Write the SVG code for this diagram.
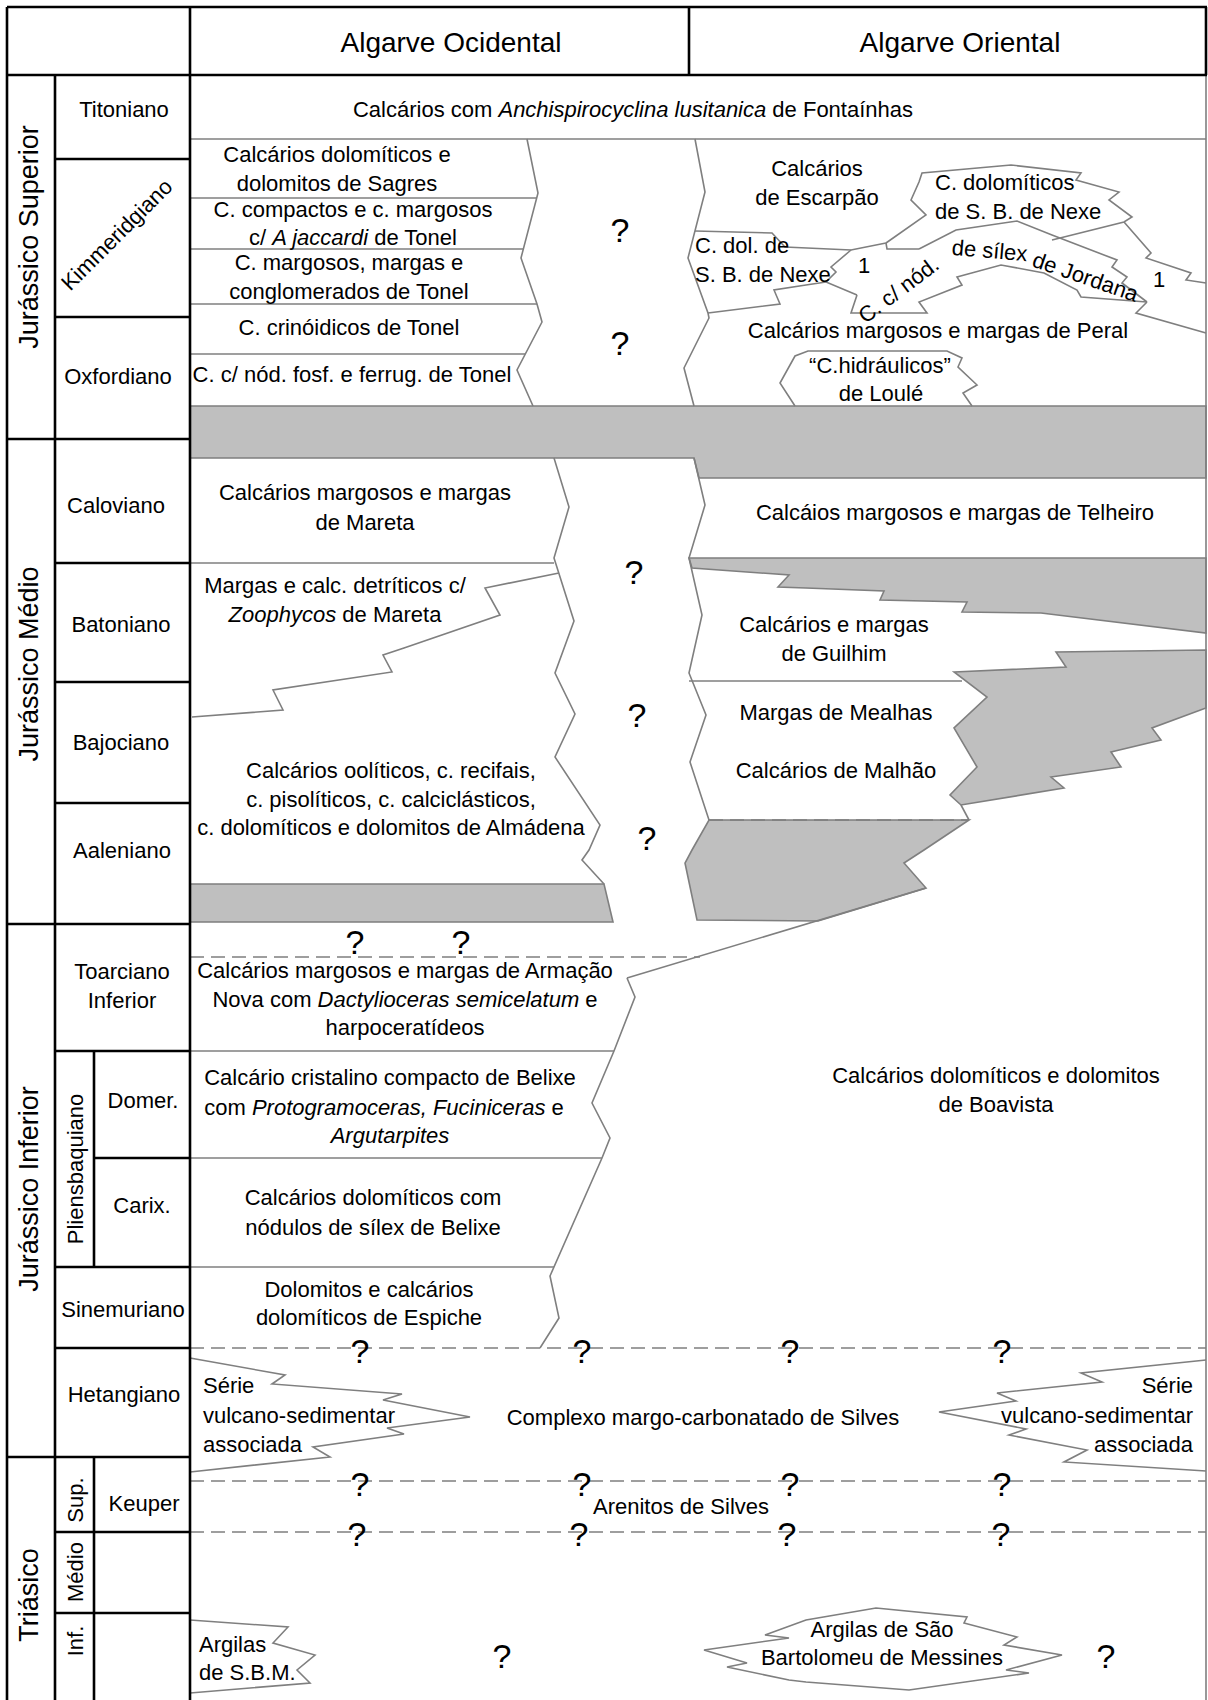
<svg xmlns="http://www.w3.org/2000/svg" width="1208" height="1700" viewBox="0 0 1208 1700">
<style>
.t{font-family:"Liberation Sans",Arial,sans-serif;font-size:22px;fill:#000}
.c{text-anchor:middle}
.e{text-anchor:end}
.h{font-size:28px}
.era{font-size:27px}
.q{font-size:34px;text-anchor:middle}
.g{stroke:#7f7f7f;stroke-width:1.6;fill:none;stroke-linejoin:miter}
.gf{fill:#bfbfbf;stroke:#7f7f7f;stroke-width:1.6}
.k{stroke:#000;stroke-width:2.6;fill:none}
.d{stroke:#7f7f7f;stroke-width:1.6;stroke-dasharray:14 7;fill:none}
</style>
<rect x="0" y="0" width="1208" height="1700" fill="#fff"/>

<g id="fills">
<polygon class="gf" points="190,406 1206,406 1206,478 699,478 694,458 190,458"/>
<polygon class="gf" points="689,558 1206,558 1206,633 1041,613 962,612 967,602 880,600 884,591 806,588 778,587 789,575 692,568"/>
<polygon class="gf" points="954,672 1066,667 1056,652 1206,650 1206,708 1152,728 1161,740 1111,752 1121,767 1051,777 1064,788 961,805 950,795 977,767 954,728 987,697"/>
<polygon class="gf" points="709,820 969,820 924,850 904,863 926,888 818,921 697,920 685,863 692,850"/>
<polygon class="gf" points="190,884 604,884 613,922 190,922"/>
</g>

<g id="connectors">
<line class="g" x1="190" y1="139" x2="1206" y2="139"/>
<line class="g" x1="1206" y1="75" x2="1206" y2="1700"/>
<polyline class="g" points="527,139 538,193 521,258 537,304 542,322 517,370 533,406"/>
<polyline class="g" points="695,139 705,192 688,258 708,313 709,318 684,368 694,406"/>
<line class="g" x1="190" y1="198" x2="537" y2="198"/>
<line class="g" x1="190" y1="249" x2="524" y2="249"/>
<line class="g" x1="190" y1="304" x2="537" y2="304"/>
<line class="g" x1="190" y1="354" x2="525" y2="354"/>
<polyline class="g" points="695,231 772,233 785,247 851,250 886,243"/>
<polyline class="g" points="886,243 926,215 911,200 919,182 922,173 1011,165 1081,173 1076,180 1119,192 1109,200 1132,217 1124,222 1052,240"/>
<polyline class="g" points="1124,222 1151,253 1146,258 1191,273 1186,280 1206,283"/>
<polyline class="g" points="886,243 887,249 919,249"/>
<polyline class="g" points="919,249 956,230 1017,221 1052,235 1117,260 1112,267 1127,277 1122,283 1147,302"/>
<polyline class="g" points="1147,302 1081,297 1077,290 1044,273 1001,265 957,277 962,285 919,302 927,313 851,313 857,295"/>
<polyline class="g" points="857,295 826,282 836,272 831,267 851,250"/>
<polyline class="g" points="708,313 780,304 774,290 806,285 826,282"/>
<polyline class="g" points="1147,302 1136,313 1206,333"/>
<polyline class="g" points="795,406 780,383 795,356 808,351 947,351 962,358 958,367 977,385 963,393 972,406"/>

<polyline class="g" points="554,458 569,507 554,558 574,621 555,673 575,714 555,757 600,825 589,850 582,860 604,884"/>
<polyline class="g" points="694,458 705,505 689,558 702,615 689,673 706,715 690,762 709,820"/>
<line class="g" x1="190" y1="563" x2="554" y2="563"/>
<polyline class="g" points="559,573 485,588 500,615 404,648 383,655 392,672 273,690 283,710 192,717"/>
<line class="g" x1="689" y1="681" x2="962" y2="681"/>
<line class="g" x1="961" y1="805" x2="969" y2="820"/>
<line class="d" x1="709" y1="820" x2="969" y2="820"/>

<line class="d" x1="190" y1="957" x2="700" y2="957"/>
<line class="g" x1="627" y1="978" x2="926" y2="888"/>
<polyline class="g" points="627,978 635,997 614,1051 592,1103 610,1138 602,1158 550,1276 559,1318 540,1348"/>
<line class="g" x1="190" y1="1051" x2="614" y2="1051"/>
<line class="g" x1="190" y1="1158" x2="602" y2="1158"/>
<line class="g" x1="190" y1="1267" x2="554" y2="1267"/>
<line class="d" x1="190" y1="1348" x2="1206" y2="1348"/>
<line class="d" x1="190" y1="1481" x2="1206" y2="1481"/>
<line class="d" x1="190" y1="1532" x2="1206" y2="1532"/>
<polyline class="g" points="190,1358 285,1375 272,1384 402,1394 383,1400 470,1417 387,1428 404,1434 313,1447 330,1457 190,1472"/>
<polyline class="g" points="1206,1360 1081,1373 1102,1382 997,1393 1016,1401 939,1412 1026,1429 1009,1435 1087,1450 1064,1462 1206,1471"/>
<polyline class="g" points="190,1620 288,1627 273,1643 315,1655 297,1670 310,1683 190,1693"/>
<polygon class="g" points="704,1650 789,1638 765,1635 806,1620 876,1608 967,1617 964,1623 1017,1637 1004,1645 1062,1655 1006,1670 1029,1673 909,1690 806,1682 789,1680 727,1667 747,1663"/>
</g>

<g id="frame">
<line class="k" x1="7" y1="7" x2="1207" y2="7"/>
<line class="k" x1="7" y1="75" x2="1207" y2="75"/>
<line class="k" x1="7" y1="7" x2="7" y2="1700"/>
<line class="k" x1="190" y1="7" x2="190" y2="1700"/>
<line class="k" x1="689" y1="7" x2="689" y2="75"/>
<line class="k" x1="1206" y1="7" x2="1206" y2="75"/>
<line class="k" x1="55" y1="75" x2="55" y2="1700"/>
<line class="k" x1="7" y1="439" x2="190" y2="439"/>
<line class="k" x1="7" y1="924" x2="190" y2="924"/>
<line class="k" x1="7" y1="1457" x2="190" y2="1457"/>
<line class="k" x1="55" y1="159" x2="190" y2="159"/>
<line class="k" x1="55" y1="317" x2="190" y2="317"/>
<line class="k" x1="55" y1="563" x2="190" y2="563"/>
<line class="k" x1="55" y1="682" x2="190" y2="682"/>
<line class="k" x1="55" y1="803" x2="190" y2="803"/>
<line class="k" x1="55" y1="1051" x2="190" y2="1051"/>
<line class="k" x1="94" y1="1158" x2="190" y2="1158"/>
<line class="k" x1="55" y1="1267" x2="190" y2="1267"/>
<line class="k" x1="55" y1="1348" x2="190" y2="1348"/>
<line class="k" x1="94" y1="1051" x2="94" y2="1267"/>
<line class="k" x1="94" y1="1457" x2="94" y2="1700"/>
<line class="k" x1="55" y1="1532" x2="190" y2="1532"/>
<line class="k" x1="55" y1="1613" x2="190" y2="1613"/>
</g>

<g id="header">
<text class="t h c" x="451" y="52">Algarve Ocidental</text>
<text class="t h c" x="960" y="52">Algarve Oriental</text>
</g>

<g id="eras">
<text class="t era c" transform="translate(38,237) rotate(-90)">Jurássico Superior</text>
<text class="t era c" transform="translate(38,664) rotate(-90)">Jurássico Médio</text>
<text class="t era c" transform="translate(38,1189) rotate(-90)">Jurássico Inferior</text>
<text class="t era c" transform="translate(38,1595) rotate(-90)">Triásico</text>
</g>

<g id="stages">
<text class="t c" x="124" y="117">Titoniano</text>
<text class="t c" transform="translate(122,240) rotate(-45)">Kimmeridgiano</text>
<text class="t c" x="118" y="384">Oxfordiano</text>
<text class="t c" x="116" y="513">Caloviano</text>
<text class="t c" x="121" y="632">Batoniano</text>
<text class="t c" x="121" y="750">Bajociano</text>
<text class="t c" x="122" y="858">Aaleniano</text>
<text class="t c" x="122" y="979">Toarciano</text>
<text class="t c" x="122" y="1008">Inferior</text>
<text class="t c" x="143" y="1108">Domer.</text>
<text class="t c" x="142" y="1213">Carix.</text>
<text class="t c" transform="translate(83,1169) rotate(-90)">Pliensbaquiano</text>
<text class="t c" x="123" y="1317">Sinemuriano</text>
<text class="t c" x="124" y="1402">Hetangiano</text>
<text class="t c" x="144" y="1511">Keuper</text>
<text class="t c" transform="translate(83,1500) rotate(-90)">Sup.</text>
<text class="t c" transform="translate(83,1572) rotate(-90)">Médio</text>
<text class="t c" transform="translate(83,1641) rotate(-90)">Inf.</text>
</g>

<g id="units">
<text class="t c" x="633" y="117">Calcários com <tspan font-style="italic">Anchispirocyclina lusitanica</tspan> de Fontaínhas</text>
<text class="t c" x="337" y="162">Calcários dolomíticos e</text>
<text class="t c" x="337" y="191">dolomitos de Sagres</text>
<text class="t c" x="353" y="217">C. compactos e c. margosos</text>
<text class="t c" x="353" y="245">c/ <tspan font-style="italic">A jaccardi</tspan> de Tonel</text>
<text class="t c" x="349" y="270">C. margosos, margas e</text>
<text class="t c" x="349" y="299">conglomerados de Tonel</text>
<text class="t c" x="349" y="335">C. crinóidicos de Tonel</text>
<text class="t c" x="352" y="382">C. c/ nód. fosf. e ferrug. de Tonel</text>

<text class="t c" x="817" y="176">Calcários</text>
<text class="t c" x="817" y="205">de Escarpão</text>
<text class="t" x="695" y="253">C. dol. de</text>
<text class="t" x="695" y="282">S. B. de Nexe</text>
<text class="t" x="935" y="190">C. dolomíticos</text>
<text class="t" x="935" y="219">de S. B. de Nexe</text>
<text class="t c" x="864" y="273">1</text>
<text class="t c" x="1159" y="287">1</text>
<text class="t c" transform="translate(903,296) rotate(-37)">C. c/ nód.</text>
<text class="t c" transform="translate(989,258) rotate(5)">de sílex</text>
<text class="t c" transform="translate(1083,284) rotate(19)">de Jordana</text>
<text class="t c" x="938" y="338">Calcários margosos e margas de Peral</text>
<text class="t c" x="880" y="373">“C.hidráulicos”</text>
<text class="t c" x="881" y="401">de Loulé</text>

<text class="t c" x="365" y="500">Calcários margosos e margas</text>
<text class="t c" x="365" y="530">de Mareta</text>
<text class="t c" x="335" y="593">Margas e calc. detríticos c/</text>
<text class="t c" x="335" y="622"><tspan font-style="italic">Zoophycos</tspan> de Mareta</text>
<text class="t c" x="391" y="778">Calcários oolíticos, c. recifais,</text>
<text class="t c" x="391" y="807">c. pisolíticos, c. calciclásticos,</text>
<text class="t c" x="391" y="835">c. dolomíticos e dolomitos de Almádena</text>
<text class="t c" x="955" y="520">Calcáios margosos e margas de Telheiro</text>
<text class="t c" x="834" y="632">Calcários e margas</text>
<text class="t c" x="834" y="661">de Guilhim</text>
<text class="t c" x="836" y="720">Margas de Mealhas</text>
<text class="t c" x="836" y="778">Calcários de Malhão</text>

<text class="t c" x="405" y="978">Calcários margosos e margas de Armação</text>
<text class="t c" x="405" y="1007">Nova com <tspan font-style="italic">Dactylioceras semicelatum</tspan> e</text>
<text class="t c" x="405" y="1035">harpoceratídeos</text>
<text class="t c" x="390" y="1085">Calcário cristalino compacto de Belixe</text>
<text class="t c" x="384" y="1115">com <tspan font-style="italic">Protogramoceras, Fuciniceras</tspan> e</text>
<text class="t c" x="390" y="1143" font-style="italic">Argutarpites</text>
<text class="t c" x="373" y="1205">Calcários dolomíticos com</text>
<text class="t c" x="373" y="1235">nódulos de sílex de Belixe</text>
<text class="t c" x="369" y="1297">Dolomitos e calcários</text>
<text class="t c" x="369" y="1325">dolomíticos de Espiche</text>
<text class="t c" x="996" y="1083">Calcários dolomíticos e dolomitos</text>
<text class="t c" x="996" y="1112">de Boavista</text>

<text class="t" x="203" y="1393">Série</text>
<text class="t" x="203" y="1423">vulcano-sedimentar</text>
<text class="t" x="203" y="1452">associada</text>
<text class="t e" x="1193" y="1393">Série</text>
<text class="t e" x="1193" y="1423">vulcano-sedimentar</text>
<text class="t e" x="1193" y="1452">associada</text>
<text class="t c" x="703" y="1425">Complexo margo-carbonatado de Silves</text>
<text class="t c" x="681" y="1514">Arenitos de Silves</text>
<text class="t" x="199" y="1652">Argilas</text>
<text class="t" x="199" y="1680">de S.B.M.</text>
<text class="t c" x="882" y="1637">Argilas de São</text>
<text class="t c" x="882" y="1665">Bartolomeu de Messines</text>
</g>

<g id="queries">
<text class="t q" x="620" y="242">?</text>
<text class="t q" x="620" y="355">?</text>
<text class="t q" x="634" y="584">?</text>
<text class="t q" x="637" y="727">?</text>
<text class="t q" x="647" y="850">?</text>
<text class="t q" x="355" y="954">?</text>
<text class="t q" x="461" y="954">?</text>
<text class="t q" x="360" y="1363">?</text>
<text class="t q" x="582" y="1363">?</text>
<text class="t q" x="790" y="1363">?</text>
<text class="t q" x="1002" y="1363">?</text>
<text class="t q" x="360" y="1496">?</text>
<text class="t q" x="582" y="1496">?</text>
<text class="t q" x="790" y="1496">?</text>
<text class="t q" x="1002" y="1496">?</text>
<text class="t q" x="357" y="1546">?</text>
<text class="t q" x="579" y="1546">?</text>
<text class="t q" x="787" y="1546">?</text>
<text class="t q" x="1001" y="1546">?</text>
<text class="t q" x="502" y="1668">?</text>
<text class="t q" x="1106" y="1668">?</text>
</g>
</svg>
